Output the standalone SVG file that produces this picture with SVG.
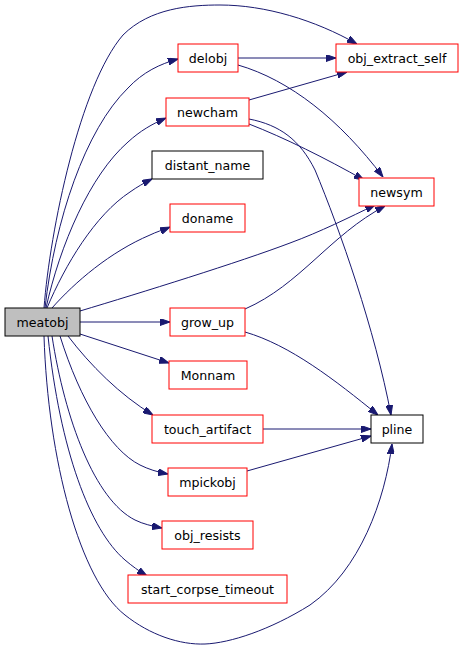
<svg xmlns="http://www.w3.org/2000/svg" width="464" height="651" viewBox="0 0 464 651">
<defs>
<style>
.n rect{fill:#fff;stroke:#ff0000;stroke-width:1}
.n.b rect{stroke:#000}
.n.g rect{fill:#bfbfbf;stroke:#000}
.n text{font-family:"DejaVu Sans",sans-serif;font-size:12.6px;fill:#000;text-anchor:middle}
.e path{fill:none;stroke:#191970;stroke-width:1}
</style>
<marker id="a" viewBox="0 0 10 7" refX="10" refY="3.5" markerWidth="10" markerHeight="7" markerUnits="userSpaceOnUse" orient="auto">
<path d="M0,0 L10,3.5 L0,7 Z" fill="#191970" stroke="#191970"/>
</marker>
</defs>
<rect width="464" height="651" fill="#fff"/>
<g class="e" marker-end="url(#a)">
<path d="M44,308 C50,230 80,85 123,35 C150,8 190,5 220,5 C265,5 315,20 357,44" marker-end="url(#a)"/>
<path d="M45,308 C55,220 85,130 128,88 C143,72 160,64 178,59" marker-end="url(#a)"/>
<path d="M46,308 C60,245 90,175 128,142 C140,131 152,124 166,118" marker-end="url(#a)"/>
<path d="M47,308 C65,265 95,215 130,192 C137,187 144,183 152,179" marker-end="url(#a)"/>
<path d="M52,308 C75,282 110,252 150,235 C156,232 163,230 170,227" marker-end="url(#a)"/>
<path d="M80,311 C140,293 240,262 290,243 C320,232 350,217 375,205" marker-end="url(#a)"/>
<path d="M80,322 L170,322" marker-end="url(#a)"/>
<path d="M80,334 L169,363" marker-end="url(#a)"/>
<path d="M68,336 C90,365 120,395 153,415" marker-end="url(#a)"/>
<path d="M60,336 C80,400 110,450 140,465 C148,469 157,472 168,474" marker-end="url(#a)"/>
<path d="M52,336 C65,420 95,500 135,520 C143,524 152,526 162,528" marker-end="url(#a)"/>
<path d="M48,336 C60,450 90,530 125,560 C132,566 139,571 147,576" marker-end="url(#a)"/>
<path d="M44,336 C48,460 80,580 125,615 C150,635 180,645 205,644 C230,643 270,630 310,605 C360,570 385,500 392,444" marker-end="url(#a)"/>
<path d="M238,58 L336,58" marker-end="url(#a)"/>
<path d="M238,65 C290,80 340,120 383,177" marker-end="url(#a)"/>
<path d="M249,100 L347,72" marker-end="url(#a)"/>
<path d="M249,124 C285,138 325,158 364,180" marker-end="url(#a)"/>
<path d="M249,119 C280,125 300,140 315,170 C340,230 375,330 391,415" marker-end="url(#a)"/>
<path d="M245,309 C300,285 330,235 385,206" marker-end="url(#a)"/>
<path d="M245,332 C290,345 335,380 378,415" marker-end="url(#a)"/>
<path d="M263,429 L371,429" marker-end="url(#a)"/>
<path d="M247,471 L371,436" marker-end="url(#a)"/>
</g>
<g id="meatobj" class="n g"><rect x="5" y="308" width="75" height="28"/><text x="42.5" y="326.5">meatobj</text></g>
<g id="delobj" class="n"><rect x="178" y="44" width="60" height="28"/><text x="208" y="62.5">delobj</text></g>
<g id="obj_extract_self" class="n"><rect x="336" y="44" width="122" height="28"/><text x="397" y="62.5">obj_extract_self</text></g>
<g id="newcham" class="n"><rect x="166" y="98" width="83" height="28"/><text x="207.5" y="116.5">newcham</text></g>
<g id="distant_name" class="n b"><rect x="152" y="151" width="111" height="28"/><text x="207.5" y="169.5">distant_name</text></g>
<g id="newsym" class="n"><rect x="359" y="178" width="75" height="28"/><text x="396.5" y="196.5">newsym</text></g>
<g id="doname" class="n"><rect x="170" y="204" width="75" height="28"/><text x="207.5" y="222.5">doname</text></g>
<g id="grow_up" class="n"><rect x="170" y="308" width="75" height="28"/><text x="207.5" y="326.5">grow_up</text></g>
<g id="Monnam" class="n"><rect x="169" y="361" width="78" height="28"/><text x="208" y="379.5">Monnam</text></g>
<g id="touch_artifact" class="n"><rect x="152" y="415" width="111" height="28"/><text x="207.5" y="433.5">touch_artifact</text></g>
<g id="pline" class="n b"><rect x="371" y="415" width="52" height="28"/><text x="397" y="433.5">pline</text></g>
<g id="mpickobj" class="n"><rect x="168" y="468" width="79" height="28"/><text x="207.5" y="486.5">mpickobj</text></g>
<g id="obj_resists" class="n"><rect x="162" y="521" width="91" height="28"/><text x="207.5" y="539.5">obj_resists</text></g>
<g id="start_corpse_timeout" class="n"><rect x="128" y="575" width="159" height="28"/><text x="207.5" y="593.5">start_corpse_timeout</text></g>
</svg>
